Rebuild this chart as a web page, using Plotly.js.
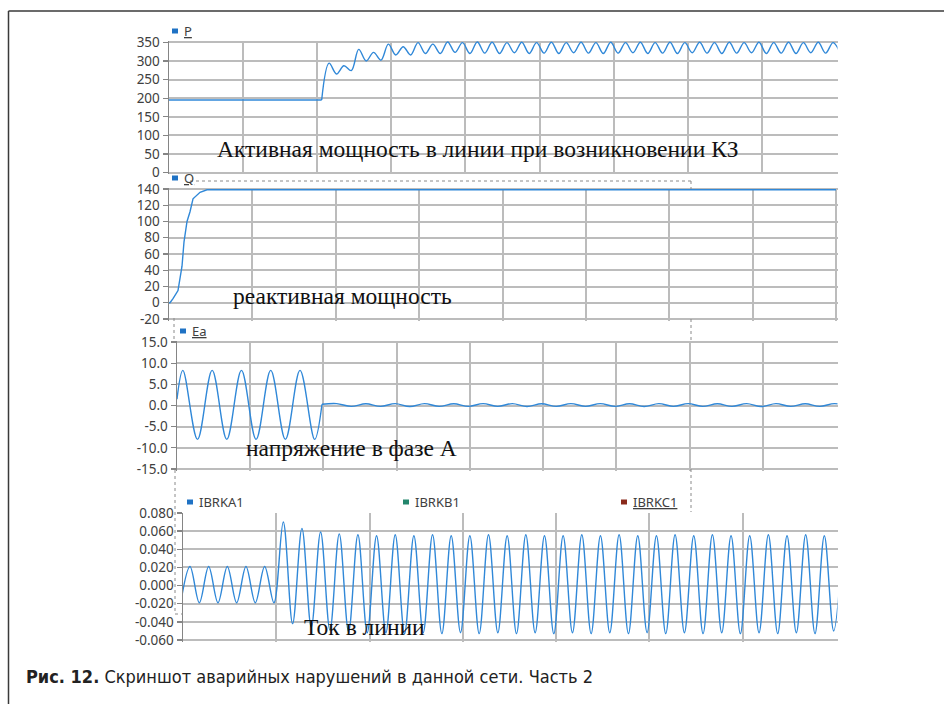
<!DOCTYPE html>
<html><head><meta charset="utf-8">
<script src="https://cdn.plot.ly/plotly-3.0.1.min.js"></script>
<style>html,body{margin:0;padding:0;background:#fff;}#chart{width:944px;height:704px;}</style>
</head><body><div id="chart"></div>
<script>
// ---------- DATA ----------
// Panel 1: active power P (time in grid units)
const pPreX = [0, 2.06];
const pPreY = [195, 195];
const pOscStart = 2.06, pOscStep = 0.1;
const pOscY = [195, 294, 265, 287, 274, 331, 300, 323, 302, 345, 316, 338, 316, 349, 320, 345, 320, 351, 323, 349, 320, 351,
  321, 350, 320, 349, 322, 350, 320, 349, 321, 350, 320, 349, 322, 350, 321, 349, 320, 350, 321, 349, 322, 350, 320, 349,
  321, 350, 320, 349, 322, 350, 321, 349, 320, 350, 321, 349, 322, 350, 320, 349, 321, 350, 320, 349, 322, 350, 321, 349, 320];
const pTicks = [0, 50, 100, 150, 200, 250, 300, 350];
const pTickText = ['0', '50', '100', '150', '200', '250', '300', '350'];

// Panel 2: reactive power Q
const qX = [0, 0.012, 0.048, 0.108, 0.156, 0.18, 0.216, 0.252, 0.288, 0.372, 0.456, 0.61, 8];
const qY = [0, 0, 5, 15, 45, 75, 100, 112, 128, 136, 139, 139, 139];
const qTicks = [-20, 0, 20, 40, 60, 80, 100, 120, 140];
const qTickText = ['-20', '0', '20', '40', '60', '80', '100', '120', '140'];

// Panel 3: phase A voltage Ea
const eaPreX = [0, 0.08, 0.28, 0.48, 0.68, 0.88, 1.08, 1.28, 1.48, 1.68, 1.88, 1.98];
const eaPreY = [1.5, 8.3, -8.0, 8.3, -8.0, 8.3, -8.0, 8.3, -8.0, 8.3, -8.0, 0.3];
const eaPostStart = 1.98, eaPostStep = 0.2;
const eaPostY = [0.3, 0.45, -0.2, 0.4, -0.2, 0.45, -0.25, 0.45, -0.2, 0.4, -0.2, 0.45, -0.2, 0.45, -0.25, 0.4, -0.2, 0.45,
  -0.2, 0.45, -0.2, 0.4, -0.25, 0.45, -0.2, 0.45, -0.2, 0.4, -0.2, 0.45, -0.25, 0.45, -0.2, 0.4, -0.2, 0.45, -0.2];
const eaTicks = [-15, -10, -5, 0, 5, 10, 15];
const eaTickText = ['-15.0', '-10.0', '-5.0', '0.0', '5.0', '10.0', '15.0'];

// Panel 4: line current IBRKA1
const iStart = -0.025, iStep = 0.1;
const iY = [-0.019, 0.021, -0.019, 0.021, -0.019, 0.021, -0.019, 0.021, -0.019, 0.021, -0.019,
  0.070, -0.042, 0.063, -0.046, 0.059, -0.049, 0.057, -0.051, 0.056, -0.052,
  0.055, -0.052, 0.056, -0.053, 0.055, -0.052, 0.056, -0.053, 0.055, -0.052, 0.055, -0.053, 0.056, -0.052, 0.055, -0.053,
  0.056, -0.052, 0.055, -0.053, 0.055, -0.052, 0.056, -0.053, 0.055, -0.052, 0.056, -0.053, 0.055, -0.052, 0.055, -0.053,
  0.056, -0.052, 0.055, -0.053, 0.056, -0.052, 0.055, -0.053, 0.055, -0.052, 0.056, -0.053, 0.055, -0.052, 0.056, -0.053,
  0.055, -0.050, 0.054];
const iTicks = [-0.06, -0.04, -0.02, 0, 0.02, 0.04, 0.06, 0.08];
const iTickText = ['-0.060', '-0.040', '-0.020', '0.000', '0.020', '0.040', '0.060', '0.080'];

const legendNames = ['P', 'Q', 'Ea', 'IBRKA1', 'IBRKB1', 'IBRKC1'];
const panelLabels = ['Активная мощность в линии при возникновении КЗ', 'реактивная мощность', 'напряжение в фазе А', 'Ток в линии'];
const captionBold = 'Рис. 12.';
const captionText = 'Скриншот аварийных нарушений в данной сети. Часть 2';

// ---------- LAYOUT HELPERS ----------
const W = 944, H = 704;
const px = x => x / W;
const py = y => 1 - y / H;
const LINE = '#3088d8';
const GRID = '#bcbcbc';
const AXIS = '#858585';
const yStyle = {
  showline: true, linecolor: AXIS, linewidth: 1.5, ticks: 'outside', ticklen: 5, tickcolor: AXIS, tickwidth: 1.3,
  showgrid: true, gridcolor: GRID, gridwidth: 2, zeroline: false, fixedrange: true,
  tickfont: {family: 'Noto Sans, Open Sans, sans-serif', size: 13.5, color: '#404040'}, tickmode: 'array'
};
const xStyle = {
  showline: false, showticklabels: false, ticks: '', showgrid: true, gridcolor: GRID, gridwidth: 2,
  zeroline: false, fixedrange: true, tickmode: 'array'
};
function yAxis(vBot, vTop, pBot, pTop, padB, padT, vals, text, anchor) {
  const s = (pBot - pTop) / (vTop - vBot);
  return Object.assign({}, yStyle, {anchor: anchor, domain: [py(pBot + padB), py(pTop - padT)],
    range: [vBot - padB / s, vTop + padT / s], tickvals: vals, ticktext: text});
}
function xAxis(v0, v1, p0, p1, padR, vals, anchor) {
  const s = (p1 - p0) / (v1 - v0);
  return Object.assign({}, xStyle, {anchor: anchor, domain: [px(p0), px(p1 + padR)],
    range: [v0, v1 + padR / s], tickvals: vals});
}

const lineStyle = {color: LINE, width: 1.4};
const traces = [
  {x: pPreX, y: pPreY, xaxis: 'x', yaxis: 'y', mode: 'lines', line: lineStyle, name: 'P', showlegend: false, hoverinfo: 'skip'},
  {x0: pOscStart, dx: pOscStep, y: pOscY, xaxis: 'x', yaxis: 'y', mode: 'lines', line: Object.assign({shape: 'spline'}, lineStyle), name: 'P', showlegend: false, hoverinfo: 'skip'},
  {x: qX, y: qY, xaxis: 'x2', yaxis: 'y2', mode: 'lines', line: lineStyle, name: 'Q', showlegend: false, hoverinfo: 'skip'},
  {x: eaPreX, y: eaPreY, xaxis: 'x3', yaxis: 'y3', mode: 'lines', line: Object.assign({shape: 'spline'}, lineStyle), name: 'Ea', showlegend: false, hoverinfo: 'skip'},
  {x0: eaPostStart, dx: eaPostStep, y: eaPostY, xaxis: 'x3', yaxis: 'y3', mode: 'lines', line: Object.assign({shape: 'spline'}, lineStyle), name: 'Ea', showlegend: false, hoverinfo: 'skip'},
  {x0: iStart, dx: iStep, y: iY, xaxis: 'x4', yaxis: 'y4', mode: 'lines', line: Object.assign({shape: 'spline'}, lineStyle), name: 'IBRKA1', showlegend: false, hoverinfo: 'skip'}
];

const shapes = [];
const annotations = [];
function pline(x0, y0, x1, y1, color, width, dash) {
  shapes.push({type: 'line', xref: 'paper', yref: 'paper', x0: px(x0), y0: py(y0), x1: px(x1), y1: py(y1),
    line: {color: color, width: width, dash: dash || 'solid'}});
}
function legendItem(x, y, name, color, underline) {
  shapes.push({type: 'rect', xref: 'paper', yref: 'paper', x0: px(x), x1: px(x + 6), y0: py(y + 2.5), y1: py(y - 2.5),
    fillcolor: color, line: {width: 0}});
  annotations.push({xref: 'paper', yref: 'paper', x: px(x + 10), y: py(y), xanchor: 'left', yanchor: 'middle', showarrow: false,
    text: name, font: {family: 'Noto Sans, Open Sans, sans-serif', size: 13, color: '#404040', lineposition: underline ? 'under' : 'none'}});
}
function label(x, y, text, size) {
  annotations.push({xref: 'paper', yref: 'paper', x: px(x), y: py(y), xanchor: 'left', yanchor: 'middle', showarrow: false,
    text: text, font: {family: 'Liberation Serif, Times New Roman, serif', size: size, color: '#111'}});
}

// frame
pline(8.5, 11, 944, 11, '#3a3a3a', 1.5);
pline(8.5, 11, 8.5, 704, '#3a3a3a', 1.5);
// dotted selection borders of the pasted charts
const DOT = '#8a8a8a';
pline(190, 181, 691, 181, DOT, 1, 'dot');
pline(691, 181, 691, 189, DOT, 1, 'dot');
pline(691, 319, 691, 342, DOT, 1, 'dot');
pline(691, 469, 691, 512, DOT, 1, 'dot');
pline(174, 318, 174, 341, DOT, 1, 'dot');
pline(175, 470, 175, 614, DOT, 1, 'dot');
pline(175, 614, 183, 614, DOT, 1, 'dot');

legendItem(172, 31, legendNames[0], '#1f72c4', true);
legendItem(172, 178, legendNames[1], '#1f72c4', true);
legendItem(180, 331, legendNames[2], '#1f72c4', true);
legendItem(187, 502, legendNames[3], '#1f72c4', false);
legendItem(403, 502, legendNames[4], '#23866c', false);
legendItem(621, 502, legendNames[5], '#8a2a1c', true);

label(215, 149, panelLabels[0], 23.5);
label(231, 296, panelLabels[1], 23.5);
label(244, 448, panelLabels[2], 23.5);
label(302, 627, panelLabels[3], 23.5);

annotations.push({xref: 'paper', yref: 'paper', x: px(24), y: py(676), xanchor: 'left', yanchor: 'middle', showarrow: false,
  text: '<b>' + captionBold + '</b> ' + captionText,
  font: {family: 'Liberation Sans Narrow, DejaVu Sans Condensed, sans-serif', size: 18, color: '#222'}});

const layout = {
  width: W, height: H, margin: {l: 0, r: 0, t: 0, b: 0}, paper_bgcolor: '#fff', plot_bgcolor: 'rgba(0,0,0,0)',
  showlegend: false,
  xaxis: xAxis(0, 9, 169, 836, 1.5, [1, 2, 3, 4, 5, 6, 7, 8], 'y'),
  yaxis: yAxis(0, 350, 172.7, 42.3, 1.5, 1.5, pTicks, pTickText, 'x'),
  xaxis2: xAxis(0, 8, 169, 836, 1.5, [1, 2, 3, 4, 5, 6, 7, 8], 'y2'),
  yaxis2: yAxis(-20, 140, 319, 189, 1.5, 1.5, qTicks, qTickText, 'x2'),
  xaxis3: xAxis(0, 9, 177, 836, 1.5, [1, 2, 3, 4, 5, 6, 7, 8], 'y3'),
  yaxis3: yAxis(-15, 15, 469, 342, 1.5, 1.5, eaTicks, eaTickText, 'x3'),
  xaxis4: xAxis(0, 7, 183, 836, 1.5, [1, 2, 3, 4, 5, 6], 'y4'),
  yaxis4: yAxis(-0.06, 0.08, 640, 513, 1.5, 0, iTicks, iTickText, 'x4'),
  shapes: shapes, annotations: annotations
};
Plotly.newPlot('chart', traces, layout, {displayModeBar: false, staticPlot: true});
</script></body></html>
